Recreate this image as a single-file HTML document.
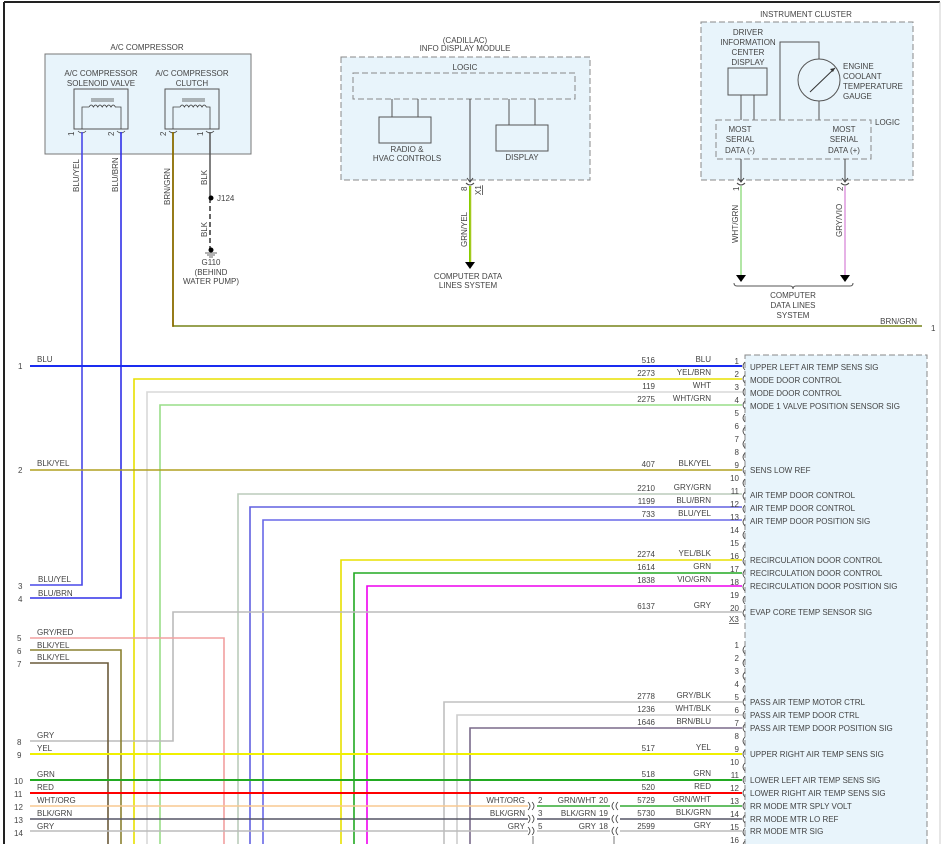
<!DOCTYPE html>
<html><head><meta charset="utf-8"><style>
html,body{margin:0;padding:0;background:#fff}
svg{display:block}
text{font-family:"Liberation Sans",sans-serif;font-size:8px;fill:#444}
</style></head><body>
<svg width="945" height="844" viewBox="0 0 945 844" xmlns="http://www.w3.org/2000/svg">
<rect x="0" y="0" width="945" height="844" fill="#fff"/>
<line x1="4" y1="2" x2="940" y2="2" stroke="#222" stroke-width="2"/>
<line x1="4" y1="2" x2="4" y2="844" stroke="#222" stroke-width="2"/>
<line x1="940" y1="2" x2="940" y2="844" stroke="#ccc" stroke-width="1"/>

<!-- A/C COMPRESSOR -->
<text x="147" y="50" text-anchor="middle">A/C COMPRESSOR</text>
<rect x="45" y="54" width="206" height="100" fill="#e8f4fb" stroke="#777"/>
<text x="101" y="76" text-anchor="middle">A/C COMPRESSOR</text>
<text x="101" y="86" text-anchor="middle">SOLENOID VALVE</text>
<text x="192" y="76" text-anchor="middle">A/C COMPRESSOR</text>
<text x="192" y="86" text-anchor="middle">CLUTCH</text>
<rect x="74" y="89" width="54" height="40" fill="#e8f4fb" stroke="#555"/>
<rect x="165" y="89" width="54" height="40" fill="#e8f4fb" stroke="#555"/>
<g fill="none" stroke="#444" stroke-width="0.8">
<path d="M82 129 V107 H89 M115 107 H121 V129"/>
<path d="M89 107 q2.2-4 4.4 0 q2.2-4 4.4 0 q2.2-4 4.4 0 q2.2-4 4.4 0 q2.2-4 4.4 0 q2.2-4 4.4 0"/>
<path d="M91 101 H114 M91 99 H114"/>
<path d="M173 129 V107 H180 M206 107 H210 V129"/>
<path d="M180 107 q2.2-4 4.4 0 q2.2-4 4.4 0 q2.2-4 4.4 0 q2.2-4 4.4 0 q2.2-4 4.4 0 q2.2-4 4.4 0"/>
<path d="M182 101 H205 M182 99 H205"/>
<path d="M78 131 q4 4 8 0 M117 131 q4 4 8 0 M169 131 q4 4 8 0 M206 131 q4 4 8 0"/>
</g>
<text x="74" y="136" transform="rotate(-90 74 136)" font-size="7">1</text>
<text x="114" y="136" transform="rotate(-90 114 136)" font-size="7">2</text>
<text x="166" y="136" transform="rotate(-90 166 136)" font-size="7">2</text>
<text x="203" y="136" transform="rotate(-90 203 136)" font-size="7">1</text>

<text x="79" y="192" transform="rotate(-90 79 192)">BLU/YEL</text>
<text x="118" y="192" transform="rotate(-90 118 192)">BLU/BRN</text>
<text x="170" y="205" transform="rotate(-90 170 205)">BRN/GRN</text>
<text x="207" y="185" transform="rotate(-90 207 185)">BLK</text>
<text x="207" y="237" transform="rotate(-90 207 237)">BLK</text>
<line x1="210" y1="132" x2="210" y2="198" stroke="#555" stroke-width="1.5"/>
<line x1="210" y1="198" x2="210" y2="250" stroke="#333" stroke-width="1.5" stroke-dasharray="5,3"/>
<circle cx="211" cy="198" r="2.5" fill="#000"/>
<text x="217" y="201">J124</text>
<circle cx="211" cy="250" r="2.5" fill="#000"/>
<path d="M205 253 H217 M207 255 H215 M209 257 H213" stroke="#333" stroke-width="0.8"/>
<text x="211" y="265" text-anchor="middle">G110</text>
<text x="211" y="275" text-anchor="middle">(BEHIND</text>
<text x="211" y="284" text-anchor="middle">WATER PUMP)</text>

<!-- INFO DISPLAY MODULE -->
<text x="465" y="43" text-anchor="middle">(CADILLAC)</text>
<text x="465" y="51" text-anchor="middle">INFO DISPLAY MODULE</text>
<rect x="341" y="57" width="249" height="123" fill="#e8f4fb" stroke="#888" stroke-dasharray="6,3"/>
<text x="465" y="70" text-anchor="middle">LOGIC</text>
<rect x="353" y="73" width="222" height="26" fill="none" stroke="#888" stroke-dasharray="6,3"/>
<rect x="379" y="117" width="52" height="26" fill="#e8f4fb" stroke="#555"/>
<rect x="496" y="125" width="52" height="26" fill="#e8f4fb" stroke="#555"/>
<path d="M392 99 V117 M418 99 V117 M509 99 V125 M535 99 V125" stroke="#555"/>
<text x="407" y="152" text-anchor="middle">RADIO &amp;</text>
<text x="407" y="161" text-anchor="middle">HVAC CONTROLS</text>
<text x="522" y="160" text-anchor="middle">DISPLAY</text>
<line x1="470" y1="99" x2="470" y2="182" stroke="#444"/>
<path d="M467 178 L470 182 L473 178 M466 183 q4 4 8 0" stroke="#444" fill="none"/>
<text x="467" y="191" transform="rotate(-90 467 191)" font-size="7">8</text>
<text x="481" y="195" transform="rotate(-90 481 195)" font-size="7" text-decoration="underline">X1</text>
<line x1="470" y1="186" x2="470" y2="262" stroke="#8c0" stroke-width="2"/>
<line x1="471" y1="186" x2="471" y2="262" stroke="#cc5" stroke-width="0.7"/>
<path d="M465 262 H475 L470 269 Z" fill="#000"/>
<text x="467" y="247" transform="rotate(-90 467 247)">GRN/YEL</text>
<text x="468" y="279" text-anchor="middle">COMPUTER DATA</text>
<text x="468" y="288" text-anchor="middle">LINES SYSTEM</text>

<!-- INSTRUMENT CLUSTER -->
<text x="806" y="17" text-anchor="middle">INSTRUMENT CLUSTER</text>
<rect x="701" y="22" width="212" height="158" fill="#e8f4fb" stroke="#888" stroke-dasharray="6,3"/>
<text x="748" y="35" text-anchor="middle">DRIVER</text>
<text x="748" y="45" text-anchor="middle">INFORMATION</text>
<text x="748" y="55" text-anchor="middle">CENTER</text>
<text x="748" y="65" text-anchor="middle">DISPLAY</text>
<rect x="728" y="68" width="39" height="27" fill="#e8f4fb" stroke="#555"/>
<path d="M741 95 V120 M754 95 V120 M780 120 V42 H819 V59 M819 101 V120" stroke="#555" fill="none"/>
<circle cx="819" cy="80" r="21" fill="#e8f4fb" stroke="#555"/>
<path d="M810 92 L835 68" stroke="#333"/>
<path d="M835 68 l-5 1 l3 3 z" fill="#333"/>
<text x="843" y="69">ENGINE</text>
<text x="843" y="79">COOLANT</text>
<text x="843" y="89">TEMPERATURE</text>
<text x="843" y="99">GAUGE</text>
<text x="875" y="125">LOGIC</text>
<rect x="716" y="120" width="155" height="39" fill="none" stroke="#888" stroke-dasharray="6,3"/>
<text x="740" y="132" text-anchor="middle">MOST</text>
<text x="740" y="142" text-anchor="middle">SERIAL</text>
<text x="740" y="153" text-anchor="middle">DATA (-)</text>
<text x="844" y="132" text-anchor="middle">MOST</text>
<text x="844" y="142" text-anchor="middle">SERIAL</text>
<text x="844" y="153" text-anchor="middle">DATA (+)</text>
<path d="M741 159 V182 M845 159 V182" stroke="#444"/>
<path d="M738 178 L741 182 L744 178 M842 178 L845 182 L848 178 M737 183 q4 4 8 0 M841 183 q4 4 8 0" stroke="#444" fill="none"/>
<text x="739" y="191" transform="rotate(-90 739 191)" font-size="7">1</text>
<text x="843" y="191" transform="rotate(-90 843 191)" font-size="7">2</text>
<line x1="741" y1="186" x2="741" y2="275" stroke="#9d8" stroke-width="1.5"/>
<line x1="845" y1="186" x2="845" y2="275" stroke="#d9d" stroke-width="1.5"/>
<path d="M736 275 H746 L741 282 Z M840 275 H850 L845 282 Z" fill="#000"/>
<text x="738" y="243" transform="rotate(-90 738 243)">WHT/GRN</text>
<text x="842" y="237" transform="rotate(-90 842 237)">GRY/VIO</text>
<path d="M734 283 q0 3 3 3 H790 q3 0 3 3 q0-3 3-3 H850 q3 0 3-3" stroke="#555" fill="none"/>
<text x="793" y="298" text-anchor="middle">COMPUTER</text>
<text x="793" y="308" text-anchor="middle">DATA LINES</text>
<text x="793" y="318" text-anchor="middle">SYSTEM</text>

<!-- BRN/GRN -->
<path d="M173 132 V326 H922" stroke="#8a6d00" stroke-width="1.8" fill="none"/>
<path d="M174 326 H922" stroke="#8c8" stroke-width="0.7"/>
<text x="917" y="324" text-anchor="end">BRN/GRN</text>
<text x="931" y="331">1</text>

<!-- HVAC module -->
<rect x="745" y="355" width="182" height="495" fill="#e8f4fb" stroke="#888" stroke-dasharray="6,3"/>

<!-- wires -->
<g fill="none" stroke-width="1.6">
<path d="M82 132 V585 H30" stroke="#4848e8"/>
<path d="M121 132 V598 H30" stroke="#3030e8"/>
<path d="M30 366 H742" stroke="#1a2cf0" stroke-width="2"/>
<path d="M742 379 H134 V844" stroke="#e8e000"/>
<path d="M742 392 H147 V844" stroke="#d8d8d8"/>
<path d="M742 405 H160 V844" stroke="#9d8"/>
<path d="M30 470 H742" stroke="#b0a020"/>
<path d="M742 494 H238 V844" stroke="#bcb"/>
<path d="M742 507 H250 V844" stroke="#6060e0"/>
<path d="M742 520 H263 V844" stroke="#6868e8"/>
<path d="M742 560 H341 V844" stroke="#e8e000"/>
<path d="M742 573 H354 V844" stroke="#2a2"/>
<path d="M742 586 H367 V844" stroke="#e0e"/>
<path d="M742 612 H173 V741 H30" stroke="#bbb"/>
<path d="M30 638 H224 V844" stroke="#f2a0a0"/>
<path d="M30 650 H121 V844" stroke="#8a8030"/>
<path d="M30 663 H108 V844" stroke="#6a5a3a"/>
<path d="M742 702 H444 V844" stroke="#c0c0c0"/>
<path d="M742 715 H457 V844" stroke="#cdcdcd"/>
<path d="M742 728 H470 V844" stroke="#7a6a8a"/>
<path d="M30 754 H742" stroke="#f0f000" stroke-width="2"/>
<path d="M30 780 H742" stroke="#2a2" stroke-width="2"/>
<path d="M30 793 H742" stroke="#f00" stroke-width="2"/>
<path d="M30 806 H528" stroke="#f8c890"/>
<path d="M537 806 H610 M620 806 H742" stroke="#3a3"/>
<path d="M30 819 H528 M537 819 H610 M620 819 H742" stroke="#556"/>
<path d="M30 831 H528 M537 831 H610 M620 831 H742" stroke="#bbb"/>
<path d="M533 836 V844 M614 836 V844" stroke="#777" stroke-width="1"/>
</g>

<!-- inline connectors -->
<g stroke="#444" fill="none" stroke-width="0.8">
<path d="M528 802 q4 4 0 8 M532 802 q4 4 0 8 M528 815 q4 4 0 8 M532 815 q4 4 0 8 M528 827 q4 4 0 8 M532 827 q4 4 0 8"/>
<path d="M614 802 q-4 4 0 8 M618 802 q-4 4 0 8 M614 815 q-4 4 0 8 M618 815 q-4 4 0 8 M614 827 q-4 4 0 8 M618 827 q-4 4 0 8"/>
</g>
<text x="525" y="803" text-anchor="end">WHT/ORG</text>
<text x="525" y="816" text-anchor="end">BLK/GRN</text>
<text x="525" y="829" text-anchor="end">GRY</text>
<text x="538" y="803">2</text><text x="538" y="816">3</text><text x="538" y="829">5</text>
<text x="596" y="803" text-anchor="end">GRN/WHT</text>
<text x="596" y="816" text-anchor="end">BLK/GRN</text>
<text x="596" y="829" text-anchor="end">GRY</text>
<text x="599" y="803">20</text><text x="599" y="816">19</text><text x="599" y="829">18</text>

<!-- left labels -->
<g>
<text x="18" y="369">1</text><text x="37" y="362">BLU</text>
<text x="18" y="473">2</text><text x="37" y="466">BLK/YEL</text>
<text x="18" y="589">3</text><text x="38" y="582">BLU/YEL</text>
<text x="18" y="602">4</text><text x="38" y="596">BLU/BRN</text>
<text x="17" y="641">5</text><text x="37" y="635">GRY/RED</text>
<text x="17" y="654">6</text><text x="37" y="648">BLK/YEL</text>
<text x="17" y="667">7</text><text x="37" y="660">BLK/YEL</text>
<text x="17" y="745">8</text><text x="37" y="738">GRY</text>
<text x="17" y="758">9</text><text x="37" y="751">YEL</text>
<text x="14" y="784">10</text><text x="37" y="777">GRN</text>
<text x="14" y="797">11</text><text x="37" y="790">RED</text>
<text x="14" y="810">12</text><text x="37" y="803">WHT/ORG</text>
<text x="14" y="823">13</text><text x="37" y="816">BLK/GRN</text>
<text x="14" y="836">14</text><text x="37" y="829">GRY</text>
</g>

<!-- right wire labels -->
<g text-anchor="end">
<text x="655" y="363">516</text><text x="711" y="362">BLU</text>
<text x="655" y="376">2273</text><text x="711" y="375">YEL/BRN</text>
<text x="655" y="389">119</text><text x="711" y="388">WHT</text>
<text x="655" y="402">2275</text><text x="711" y="401">WHT/GRN</text>
<text x="655" y="467">407</text><text x="711" y="466">BLK/YEL</text>
<text x="655" y="491">2210</text><text x="711" y="490">GRY/GRN</text>
<text x="655" y="504">1199</text><text x="711" y="503">BLU/BRN</text>
<text x="655" y="517">733</text><text x="711" y="516">BLU/YEL</text>
<text x="655" y="557">2274</text><text x="711" y="556">YEL/BLK</text>
<text x="655" y="570">1614</text><text x="711" y="569">GRN</text>
<text x="655" y="583">1838</text><text x="711" y="582">VIO/GRN</text>
<text x="655" y="609">6137</text><text x="711" y="608">GRY</text>
<text x="655" y="699">2778</text><text x="711" y="698">GRY/BLK</text>
<text x="655" y="712">1236</text><text x="711" y="711">WHT/BLK</text>
<text x="655" y="725">1646</text><text x="711" y="724">BRN/BLU</text>
<text x="655" y="751">517</text><text x="711" y="750">YEL</text>
<text x="655" y="777">518</text><text x="711" y="776">GRN</text>
<text x="655" y="790">520</text><text x="711" y="789">RED</text>
<text x="655" y="803">5729</text><text x="711" y="802">GRN/WHT</text>
<text x="655" y="816">5730</text><text x="711" y="815">BLK/GRN</text>
<text x="655" y="829">2599</text><text x="711" y="828">GRY</text>
</g>

<!-- pin numbers & arcs connector 1 -->
<g text-anchor="end" font-size="7.5">
<text x="739" y="364">1</text><text x="739" y="377">2</text><text x="739" y="390">3</text><text x="739" y="403">4</text>
<text x="739" y="416">5</text><text x="739" y="429">6</text><text x="739" y="442">7</text><text x="739" y="455">8</text>
<text x="739" y="468">9</text><text x="739" y="481">10</text><text x="739" y="494">11</text><text x="739" y="507">12</text>
<text x="739" y="520">13</text><text x="739" y="533">14</text><text x="739" y="546">15</text><text x="739" y="559">16</text>
<text x="739" y="572">17</text><text x="739" y="585">18</text><text x="739" y="598">19</text><text x="739" y="611">20</text>
<text x="739" y="648">1</text><text x="739" y="661">2</text><text x="739" y="674">3</text><text x="739" y="687">4</text>
<text x="739" y="700">5</text><text x="739" y="713">6</text><text x="739" y="726">7</text><text x="739" y="739">8</text>
<text x="739" y="752">9</text><text x="739" y="765">10</text><text x="739" y="778">11</text><text x="739" y="791">12</text>
<text x="739" y="804">13</text><text x="739" y="817">14</text><text x="739" y="830">15</text><text x="739" y="843">16</text>
</g>
<text x="729" y="622" text-decoration="underline">X3</text>
<g stroke="#444" fill="none" stroke-width="0.8">
<path d="M745 362 q-4 4 0 8 M745 375 q-4 4 0 8 M745 388 q-4 4 0 8 M745 401 q-4 4 0 8 M745 414 q-4 4 0 8 M745 427 q-4 4 0 8 M745 440 q-4 4 0 8 M745 453 q-4 4 0 8 M745 466 q-4 4 0 8 M745 479 q-4 4 0 8 M745 492 q-4 4 0 8 M745 505 q-4 4 0 8 M745 518 q-4 4 0 8 M745 531 q-4 4 0 8 M745 544 q-4 4 0 8 M745 557 q-4 4 0 8 M745 570 q-4 4 0 8 M745 583 q-4 4 0 8 M745 596 q-4 4 0 8 M745 609 q-4 4 0 8"/>
<path d="M745 646 q-4 4 0 8 M745 659 q-4 4 0 8 M745 672 q-4 4 0 8 M745 685 q-4 4 0 8 M745 698 q-4 4 0 8 M745 711 q-4 4 0 8 M745 724 q-4 4 0 8 M745 737 q-4 4 0 8 M745 750 q-4 4 0 8 M745 763 q-4 4 0 8 M745 776 q-4 4 0 8 M745 789 q-4 4 0 8 M745 802 q-4 4 0 8 M745 815 q-4 4 0 8 M745 828 q-4 4 0 8 M745 841 q-4 4 0 8"/>
</g>

<!-- module pin descriptions -->
<g>
<text x="750" y="370">UPPER LEFT AIR TEMP SENS SIG</text>
<text x="750" y="383">MODE DOOR CONTROL</text>
<text x="750" y="396">MODE DOOR CONTROL</text>
<text x="750" y="409">MODE 1 VALVE POSITION SENSOR SIG</text>
<text x="750" y="473">SENS LOW REF</text>
<text x="750" y="498">AIR TEMP DOOR CONTROL</text>
<text x="750" y="511">AIR TEMP DOOR CONTROL</text>
<text x="750" y="524">AIR TEMP DOOR POSITION SIG</text>
<text x="750" y="563">RECIRCULATION DOOR CONTROL</text>
<text x="750" y="576">RECIRCULATION DOOR CONTROL</text>
<text x="750" y="589">RECIRCULATION DOOR POSITION SIG</text>
<text x="750" y="615">EVAP CORE TEMP SENSOR SIG</text>
<text x="750" y="705">PASS AIR TEMP MOTOR CTRL</text>
<text x="750" y="718">PASS AIR TEMP DOOR CTRL</text>
<text x="750" y="731">PASS AIR TEMP DOOR POSITION SIG</text>
<text x="750" y="757">UPPER RIGHT AIR TEMP SENS SIG</text>
<text x="750" y="783">LOWER LEFT AIR TEMP SENS SIG</text>
<text x="750" y="796">LOWER RIGHT AIR TEMP SENS SIG</text>
<text x="750" y="809">RR MODE MTR SPLY VOLT</text>
<text x="750" y="822">RR MODE MTR LO REF</text>
<text x="750" y="834">RR MODE MTR SIG</text>
</g>
</svg>
</body></html>
